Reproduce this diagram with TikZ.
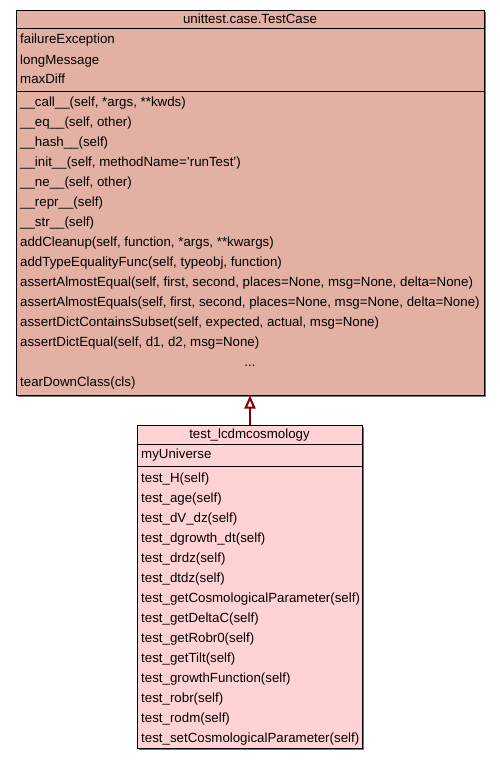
\documentclass[tikz,border=0pt]{standalone}
\usepackage{fontspec}
\setmainfont{Liberation Sans}
\usetikzlibrary{arrows.meta,positioning}

\definecolor{basefill}{RGB}{227,177,163}
\definecolor{testfill}{RGB}{255,211,213}
\definecolor{inheritred}{RGB}{128,0,0}

\begin{document}
\begin{tikzpicture}[x=1pt,y=-1pt,
    classbox/.style={draw=black, line width=1pt, inner sep=0pt},
    member/.style={anchor=base west, inner sep=0pt, font=\fontsize{13.3}{15}\selectfont},
    title/.style={anchor=base, inner sep=0pt, font=\fontsize{13.3}{15}\selectfont},
    inherit/.style={draw=inheritred, line width=2pt, -{Triangle[open, length=13pt, width=11pt]}}]
    \useasboundingbox (0,0) rectangle (499,760);
    % base class unittest.case.TestCase
    \fill[black!55] (17.5,12.5) rectangle (485.5,396.5);
    \node[classbox, fill=basefill, minimum width=468pt, minimum height=384pt] (testcase) at (250,203) {};
    \draw[line width=1pt] (16,29) -- (484,29);
    \draw[line width=1pt] (16,91) -- (484,91);
    \node[title] (tctitle) at (250,24) {unittest.case.TestCase};
    \foreach \txt [count=\i from 0] in {failureException, longMessage, maxDiff}
        \node[member] (tcattr\i) at (20,44+20*\i) {\txt};
    \foreach \txt [count=\i from 0] in {
        {\_\_call\_\_(self, *args, **kwds)},
        {\_\_eq\_\_(self, other)},
        {\_\_hash\_\_(self)},
        {\_\_init\_\_(self, methodName='runTest')},
        {\_\_ne\_\_(self, other)},
        {\_\_repr\_\_(self)},
        {\_\_str\_\_(self)},
        {addCleanup(self, function, *args, **kwargs)},
        {addTypeEqualityFunc(self, typeobj, function)},
        {assertAlmostEqual(self, first, second, places=None, msg=None, delta=None)},
        {assertAlmostEquals(self, first, second, places=None, msg=None, delta=None)},
        {assertDictContainsSubset(self, expected, actual, msg=None)},
        {assertDictEqual(self, d1, d2, msg=None)}}
        \node[member] (tcop\i) at (20,106+20*\i) {\txt};
    \node[title] (tcdots) at (250,366) {...};
    \node[member] (tclast) at (20,386) {tearDownClass(cls)};

    % derived class test_lcdmcosmology
    \fill[black!55] (138.5,426.5) rectangle (363.5,749.5);
    \node[classbox, fill=testfill, minimum width=225pt, minimum height=323pt] (lcdm) at (249.5,586.5) {};
    \draw[line width=1pt] (137,444) -- (362,444);
    \draw[line width=1pt] (137,466) -- (362,466);
    \node[title] (lcdmtitle) at (249.5,438) {test\_lcdmcosmology};
    \node[member] (lcdmattr) at (141,458) {myUniverse};
    \foreach \txt [count=\i from 0] in {
        test\_H(self), test\_age(self), test\_dV\_dz(self), test\_dgrowth\_dt(self),
        test\_drdz(self), test\_dtdz(self), test\_getCosmologicalParameter(self),
        test\_getDeltaC(self), test\_getRobr0(self), test\_getTilt(self),
        test\_growthFunction(self), test\_robr(self), test\_rodm(self),
        test\_setCosmologicalParameter(self)}
        \node[member] (lcdmop\i) at (141,482+20*\i) {\txt};

    % inheritance
    \draw[inherit] (lcdm.north -| testcase.south) -- (testcase.south);
\end{tikzpicture}
\end{document}
